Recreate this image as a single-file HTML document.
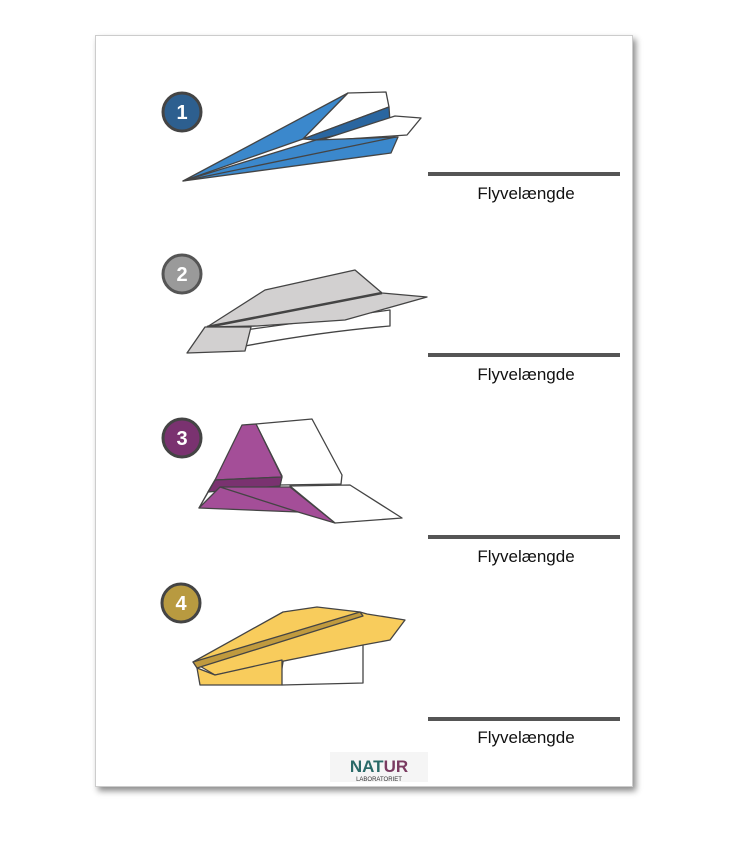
<!DOCTYPE html>
<html><head><meta charset="utf-8"><style>
body{margin:0;background:#fff;width:750px;height:848px;overflow:hidden;font-family:"Liberation Sans",sans-serif}
.card{position:absolute;left:95px;top:35px;width:538px;height:752px;background:#fff;box-shadow:3px 4px 6px rgba(0,0,0,.45);border:1px solid #ccc;box-sizing:border-box}
</style></head><body>
<div class="card"></div>
<svg width="750" height="848" style="position:absolute;left:0;top:0" stroke="#444" stroke-width="1.3" stroke-linejoin="round">
<g font-family="Liberation Sans" font-weight="bold" font-size="20" text-anchor="middle">
<circle cx="182" cy="112" r="19" fill="#2d5f8f" stroke="#444" stroke-width="3"/><text x="182" y="119" fill="#fff" stroke="none">1</text>
<circle cx="182" cy="274" r="19" fill="#9a9a9a" stroke="#555" stroke-width="3"/><text x="182" y="281" fill="#fff" stroke="none">2</text>
<circle cx="182" cy="438" r="19" fill="#7a3270" stroke="#444" stroke-width="3"/><text x="182" y="445" fill="#fff" stroke="none">3</text>
<circle cx="181" cy="603" r="19" fill="#b89a40" stroke="#444" stroke-width="3"/><text x="181" y="610" fill="#fff" stroke="none">4</text>
</g>
<!-- plane 1 -->
<polygon points="183,181 348,93 303,139" fill="#3b88cc"/>
<polygon points="348,93 386,92 389,107 303,139" fill="#fff"/>
<polygon points="303,139 389,107 390,122 316,140" fill="#2a66a0"/>
<polygon points="395,116 421,118 407,135 318,141" fill="#fff"/>
<polygon points="183,181 316,140 398,137 391,153" fill="#3b88cc"/>
<line x1="183" y1="181" x2="396" y2="137"/>
<!-- plane 2 -->
<path d="M245,330 L390,310 L390,326 Q320,332 245,346 Z" fill="#fff"/>
<polygon points="207,327 265,290 355,270 382,293 427,297 345,320 257,326" fill="#d2d0d0"/>
<line x1="207" y1="327" x2="382" y2="293" stroke-width="2.5"/>
<polygon points="187,353 205,327 251,327 245,351" fill="#d2d0d0"/>
<!-- plane 3 -->
<polygon points="256,424 312,419 342,475 341,484 280,485 282,476" fill="#fff"/>
<polygon points="242,425 256,424 282,477 215,480" fill="#a44e98"/>
<polygon points="215,480 282,477 280,486 208,492" fill="#7a3270"/>
<polygon points="290,486 350,485 402,518 335,523" fill="#fff"/>
<polygon points="208,492 215,480 199,508" fill="#a44e98"/>
<polygon points="199,508 220,487 290,487 335,523 298,512" fill="#a44e98"/>
<line x1="220" y1="487" x2="298" y2="512"/>
<!-- plane 4 -->
<polygon points="280,680 285,650 363,640 363,683 282,685" fill="#fff"/>
<polygon points="193,662 283,612 317,607 360,612 367,614 405,620 390,640 363,645 215,675" fill="#f8cc5c"/>
<polygon points="193,662 360,612 363,616 197,668" fill="#c09a3e"/>
<polygon points="197,668 215,675 282,660 282,685 200,685" fill="#f8cc5c"/>
<g stroke="none" fill="#555"><rect x="428" y="172" width="192" height="4"/><rect x="428" y="353" width="192" height="4"/><rect x="428" y="535" width="192" height="4"/><rect x="428" y="717" width="192" height="4"/></g>
<g font-family="Liberation Sans" font-size="17" fill="#111" stroke="none" text-anchor="middle">
<text x="526" y="199">Flyvelængde</text><text x="526" y="380">Flyvelængde</text><text x="526" y="562">Flyvelængde</text><text x="526" y="743">Flyvelængde</text>
</g>
<rect x="330" y="752" width="98" height="30" fill="#f5f5f5" stroke="none"/>
<text x="379" y="772" font-family="Liberation Sans" font-weight="bold" font-size="17" text-anchor="middle" fill="#2a6a68" stroke="none">NAT<tspan fill="#7a3a60">UR</tspan></text>
<text x="379" y="781" font-family="Liberation Sans" font-size="6" text-anchor="middle" fill="#333" stroke="none">LABORATORIET</text>
</svg>
</body></html>
